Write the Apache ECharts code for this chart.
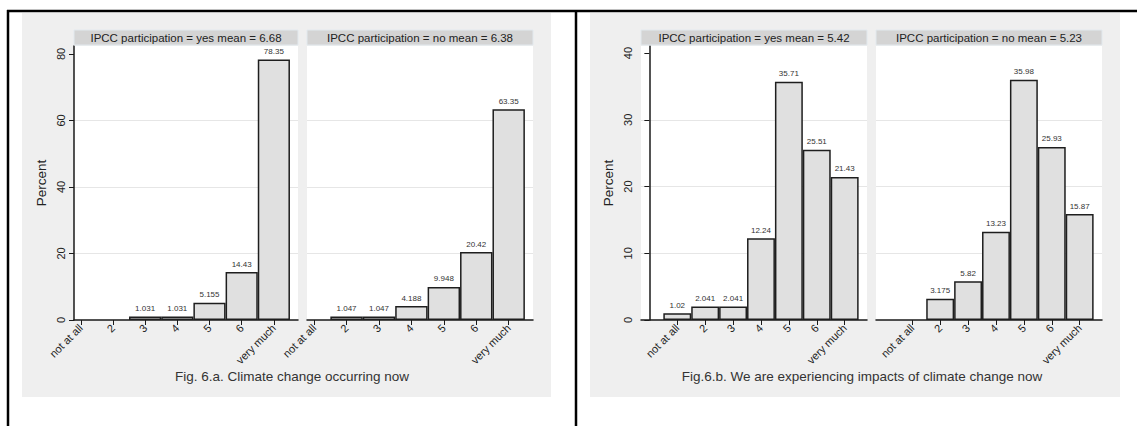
<!DOCTYPE html>
<html>
<head>
<meta charset="utf-8">
<script src="https://cdn.jsdelivr.net/npm/echarts@6/dist/echarts.min.js"></script>
<style>
html,body{margin:0;padding:0;background:#fff;}
#c{width:1137px;height:426px;}
</style>
</head>
<body>
<div id="c"></div>
<script>
// ---- data ----
const categoryValues = [1, 2, 3, 4, 5, 6, 7];
const categoryLabels = ['not at all', '2', '3', '4', '5', '6', 'very much'];
const yTicksA = [0, 20, 40, 60, 80];
const yTicksB = [0, 10, 20, 30, 40];
const aYes = [0, 0, 1.031, 1.031, 5.155, 14.43, 78.35];
const aNo = [0, 1.047, 1.047, 4.188, 9.948, 20.42, 63.35];
const bYes = [1.02, 2.041, 2.041, 12.24, 35.71, 25.51, 21.43];
const bNo = [0, 3.175, 5.82, 13.23, 35.98, 25.93, 15.87];
const stripTitles = [
  'IPCC participation = yes mean = 6.68',
  'IPCC participation = no mean = 6.38',
  'IPCC participation = yes mean = 5.42',
  'IPCC participation = no mean = 5.23'
];
const captions = [
  'Fig. 6.a. Climate change occurring now',
  'Fig.6.b. We are experiencing impacts of climate change now'
];
const yTitle = 'Percent';

// ---- layout ----
const FONT = '"Liberation Sans", Arial, sans-serif';
const panels = [
  {left: 74, width: 224, xmin: 0.79, xmax: 7.75, ymax: 82.4, yTicks: yTicksA, vals: aYes, showY: true},
  {left: 307, width: 226, xmin: 0.78, xmax: 7.75, ymax: 82.4, yTicks: yTicksA, vals: aNo, showY: false},
  {left: 641, width: 226, xmin: -0.3, xmax: 7.8, ymax: 41.05, yTicks: yTicksB, vals: bYes, showY: true},
  {left: 876, width: 226, xmin: -0.3, xmax: 7.8, ymax: 41.05, yTicks: yTicksB, vals: bNo, showY: false}
];
const TOP = 46, HEIGHT = 274;

const grids = [], xAxes = [], yAxes = [], series = [];
panels.forEach((p, i) => {
  grids.push({left: p.left, top: TOP, width: p.width, height: HEIGHT, show: true,
    backgroundColor: '#ffffff', borderWidth: 0, containLabel: false});
  xAxes.push({
    type: 'value', gridIndex: i, min: p.xmin, max: p.xmax,
    axisLine: {show: true, onZero: false, lineStyle: {color: '#1a1a1a', width: 1.5}},
    axisTick: {show: true, length: 5, customValues: categoryValues, lineStyle: {color: '#1a1a1a', width: 1}},
    axisLabel: {show: true, rotate: 45, margin: 6, fontSize: 11, fontFamily: FONT, color: '#222',
      customValues: categoryValues,
      formatter: v => categoryLabels[categoryValues.indexOf(v)] || ''},
    splitLine: {show: false}
  });
  yAxes.push({
    type: 'value', gridIndex: i, min: 0, max: p.ymax,
    name: p.showY ? yTitle : '', nameLocation: 'middle', nameGap: 26, nameRotate: 90,
    nameTextStyle: {fontSize: 13.5, fontFamily: FONT, color: '#222'},
    axisLine: {show: p.showY, lineStyle: {color: '#1a1a1a', width: 1.5}},
    axisTick: {show: p.showY, length: 5, customValues: p.yTicks, lineStyle: {color: '#1a1a1a', width: 1}},
    axisLabel: {show: p.showY, rotate: 90, margin: 8, fontSize: 11, fontFamily: FONT, color: '#222',
      customValues: p.yTicks},
    splitLine: {show: true, showMaxLine: false, showMinLine: false, lineStyle: {color: '#e6e6e6', width: 1}}
  });
  const data = [];
  p.vals.forEach((v, k) => { if (v > 0) data.push([categoryValues[k], v]); });
  series.push({
    type: 'bar', xAxisIndex: i, yAxisIndex: i, data: data,
    barWidth: p.width / (p.xmax - p.xmin),
    itemStyle: {color: '#e0e0e0', borderColor: '#1e1e1e', borderWidth: 1.5},
    label: {show: true, position: 'top', distance: 4, fontSize: 8, fontFamily: FONT, color: '#333',
      formatter: prm => String(prm.value[1])},
    emphasis: {disabled: true},
    silent: true
  });
});

const graphics = [
  // panel backgrounds
  {type: 'rect', z: -100, shape: {x: 22, y: 13, width: 529, height: 384}, style: {fill: '#efefef'}},
  {type: 'rect', z: -100, shape: {x: 590, y: 13, width: 530, height: 384}, style: {fill: '#efefef'}},
  // frame lines
  {type: 'line', z: 100, shape: {x1: 7, y1: 11, x2: 1137, y2: 11}, style: {stroke: '#000', lineWidth: 2.5}},
  {type: 'line', z: 100, shape: {x1: 8, y1: 10, x2: 8, y2: 426}, style: {stroke: '#000', lineWidth: 2.5}},
  {type: 'line', z: 100, shape: {x1: 576, y1: 10, x2: 576, y2: 426}, style: {stroke: '#000', lineWidth: 2.5}}
];
panels.forEach((p, i) => {
  graphics.push({type: 'rect', z: 50, shape: {x: p.left, y: 30, width: p.width, height: 15},
    style: {fill: '#d4d4d4', stroke: '#e2e9ee', lineWidth: 1}});
  graphics.push({type: 'text', z: 60, x: p.left + p.width / 2, y: 37.5,
    style: {text: stripTitles[i], fontSize: 11.5, fontFamily: FONT, fill: '#222', align: 'center', verticalAlign: 'middle'}});
});
graphics.push({type: 'text', z: 60, x: 292, y: 376,
  style: {text: captions[0], fontSize: 13.5, fontFamily: FONT, fill: '#333', align: 'center', verticalAlign: 'middle'}});
graphics.push({type: 'text', z: 60, x: 862, y: 376,
  style: {text: captions[1], fontSize: 13.5, fontFamily: FONT, fill: '#333', align: 'center', verticalAlign: 'middle'}});

const chart = echarts.init(document.getElementById('c'), null, {renderer: 'svg', width: 1137, height: 426});
chart.setOption({
  backgroundColor: '#ffffff',
  animation: false,
  grid: grids,
  xAxis: xAxes,
  yAxis: yAxes,
  series: series,
  graphic: {elements: graphics}
});
</script>
</body>
</html>
